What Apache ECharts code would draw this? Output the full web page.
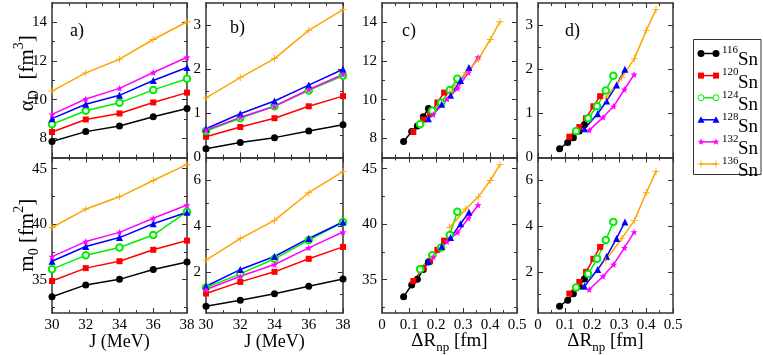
<!DOCTYPE html>
<html>
<head>
<meta charset="utf-8">
<script src="https://cdn.jsdelivr.net/npm/echarts@6/dist/echarts.min.js"></script>
<style>
html,body{margin:0;padding:0;background:#fff;}
#chart{width:763px;height:355px;}
</style>
</head>
<body>
<div id="chart"></div>
<script>
// ---------------- data ----------------
const J = [30, 32, 34, 36, 38];
const nuclei = ['116Sn', '120Sn', '124Sn', '128Sn', '132Sn', '136Sn'];

// neutron-skin thickness (fm) for each nucleus at each J
const dRnp = [
  [0.080, 0.110, 0.131, 0.153, 0.172],
  [0.116, 0.153, 0.178, 0.205, 0.230],
  [0.141, 0.186, 0.219, 0.251, 0.279],
  [0.172, 0.221, 0.254, 0.291, 0.322],
  [0.190, 0.241, 0.280, 0.320, 0.356],
  [0.251, 0.310, 0.357, 0.401, 0.437]
];
// panel a / c (top)
const alphaA = [
  [7.83, 8.34, 8.63, 9.11, 9.54],
  [8.32, 8.97, 9.28, 9.85, 10.36],
  [8.72, 9.42, 9.83, 10.50, 11.08],
  [9.01, 9.76, 10.22, 10.99, 11.66],
  [9.23, 10.03, 10.58, 11.40, 12.19],
  [10.44, 11.38, 12.09, 13.11, 14.03]
];
// panel b / d (top)
const alphaB = [
  [0.20, 0.34, 0.45, 0.60, 0.74],
  [0.47, 0.69, 0.89, 1.16, 1.39],
  [0.60, 0.89, 1.16, 1.52, 1.85],
  [0.65, 0.99, 1.28, 1.64, 2.00],
  [0.62, 0.91, 1.16, 1.54, 1.88],
  [1.35, 1.81, 2.24, 2.88, 3.35]
];
// panel a / c (bottom)
const m0A = [
  [33.46, 34.53, 35.03, 35.92, 36.60],
  [34.88, 36.04, 36.66, 37.69, 38.52],
  [35.95, 37.19, 37.90, 39.02, 41.12],
  [36.66, 37.99, 38.79, 40.03, 41.07],
  [37.07, 38.43, 39.26, 40.53, 41.72],
  [39.70, 41.36, 42.46, 43.93, 45.38]
];
// panel b / d (bottom)
const m0B = [
  [0.50, 0.76, 1.04, 1.37, 1.69],
  [1.05, 1.56, 2.00, 2.57, 3.09],
  [1.31, 1.91, 2.57, 3.39, 4.18],
  [1.37, 2.10, 2.67, 3.46, 4.18],
  [1.23, 1.81, 2.32, 3.05, 3.74],
  [2.51, 3.45, 4.25, 5.46, 6.38]
];

// axis scales and tick labels
const X_J  = {min: 30, max: 38,  major: [30, 32, 34, 36, 38],          minor: [31, 33, 35, 37]};
const X_R  = {min: 0,  max: 0.5, major: [0, 0.1, 0.2, 0.3, 0.4, 0.5], minor: [0.05, 0.15, 0.25, 0.35, 0.45]};
const Y_aT = {min: 7,  max: 15,  major: [8, 10, 12, 14],              minor: [9, 11, 13]};
const Y_bT = {min: 0,  max: 3.5, major: [0, 1, 2, 3],                 minor: [0.5, 1.5, 2.5]};
const Y_aB = {min: 32, max: 46,  major: [35, 40, 45],                 minor: [32.5, 37.5, 42.5]};
const Y_bB = {min: 0.2, max: 7,  major: [2, 4, 6],                    minor: [1, 3, 5]};

// ---------------- styling ----------------
const FONT = '"Liberation Serif", "Times New Roman", "DejaVu Serif", serif';
const COL = ['#000000', '#ff0000', '#00ee00', '#0000ff', '#ff00ff', '#ffa500'];
const STAR_PTS = [[0,-10],[2.4,-3.3],[9.5,-3.1],[3.9,1.3],[5.9,8.1],[0,4.1],[-5.9,8.1],[-3.9,1.3],[-9.5,-3.1],[-2.4,-3.3]];
const PLUS_PTS = [[-0.6,-5],[0.6,-5],[0.6,-0.6],[5,-0.6],[5,0.6],[0.6,0.6],[0.6,5],[-0.6,5],[-0.6,0.6],[-5,0.6],[-5,-0.6],[-0.6,-0.6]];
const STAR = 'path://' + STAR_PTS.map((p, i) => (i ? 'L' : 'M') + p[0] + ',' + p[1]).join('') + 'Z';
const PLUS = 'path://' + PLUS_PTS.map((p, i) => (i ? 'L' : 'M') + p[0] + ',' + p[1]).join('') + 'Z';
const SYM = ['circle', 'rect', 'emptyCircle', 'triangle', STAR, PLUS];
const SSZ = [7, 6, 6.5, 7, 7, 7];

const colL = [52, 206, 382, 538], colW = [135, 137, 135, 135];
const rowT = [3, 157.5], rowH = [154.5, 155.5];

const panels = [
  {r: 0, c: 0, xs: X_J, ys: Y_aT, xv: null, yv: alphaA},
  {r: 0, c: 1, xs: X_J, ys: Y_bT, xv: null, yv: alphaB},
  {r: 0, c: 2, xs: X_R, ys: Y_aT, xv: dRnp, yv: alphaA},
  {r: 0, c: 3, xs: X_R, ys: Y_bT, xv: dRnp, yv: alphaB},
  {r: 1, c: 0, xs: X_J, ys: Y_aB, xv: null, yv: m0A},
  {r: 1, c: 1, xs: X_J, ys: Y_bB, xv: null, yv: m0B},
  {r: 1, c: 2, xs: X_R, ys: Y_aB, xv: dRnp, yv: m0A},
  {r: 1, c: 3, xs: X_R, ys: Y_bB, xv: dRnp, yv: m0B}
];

function richSet(fs) {
  return {
    n:   {fontFamily: FONT, fontSize: fs, lineHeight: fs, padding: [5, 0, 0, 0], verticalAlign: 'top', color: '#000'},
    sub: {fontFamily: FONT, fontSize: Math.round(fs * 0.68), lineHeight: Math.round(fs * 0.68), padding: [Math.round(fs * 0.72), 0, 0, 0], verticalAlign: 'top', color: '#000'},
    sup: {fontFamily: FONT, fontSize: Math.round(fs * 0.68), lineHeight: Math.round(fs * 0.68), padding: [0, 0, 0, 0], verticalAlign: 'top', color: '#000'}
  };
}

function makeAxis(gi, pos, s, isMajor, showLabel, extra) {
  return Object.assign({
    type: 'value', gridIndex: gi, position: pos, min: s.min, max: s.max,
    axisLine: {show: isMajor, onZero: false, lineStyle: {color: '#333', width: 1.5}},
    axisTick: {show: true, inside: true, length: isMajor ? 5 : 3,
      customValues: isMajor ? s.major : s.minor, lineStyle: {color: '#333', width: 1}},
    axisLabel: {show: showLabel, customValues: s.major, fontFamily: FONT, fontSize: 15, color: '#000', margin: 5},
    splitLine: {show: false},
    minorTick: {show: false},
    nameMoveOverlap: false
  }, extra || {});
}

const grids = [], xAxes = [], yAxes = [], series = [];
panels.forEach((p, gi) => {
  grids.push({left: colL[p.c], top: rowT[p.r], width: colW[p.c], height: rowH[p.r],
    containLabel: false, outerBoundsMode: 'none'});
  const xi = xAxes.length, yi = yAxes.length;
  let xExtra = {};
  if (p.r === 1) {
    if (p.c < 2) {
      xExtra = {name: 'J (MeV)', nameLocation: 'middle', nameGap: 20, nameMoveOverlap: false,
        nameTextStyle: {fontFamily: FONT, fontSize: 18, color: '#000'}};
    } else {
      xExtra = {name: '{n|ΔR}{sub|np}{n| [fm]}', nameLocation: 'middle', nameGap: 14, nameMoveOverlap: false,
        nameTextStyle: {rich: richSet(19)}};
    }
  }
  xAxes.push(makeAxis(gi, 'bottom', p.xs, true, p.r === 1, xExtra));
  xAxes.push(makeAxis(gi, 'bottom', p.xs, false, false));
  xAxes.push(makeAxis(gi, 'top', p.xs, true, false));
  xAxes.push(makeAxis(gi, 'top', p.xs, false, false));
  let yExtra = {};
  if (p.c === 0) {
    if (p.r === 0) {
      yExtra = {name: '{n|α}{sub|D}{n|  [fm}{sup|3}{n|]}',
        nameLocation: 'middle', nameGap: 19, nameRotate: 90,
        nameTextStyle: {rich: richSet(21), padding: [0, 0, 0, 14]}};
    } else {
      yExtra = {name: '{n|m}{sub|0}{n| [fm}{sup|2}{n|]}',
        nameLocation: 'middle', nameGap: 19, nameRotate: 90,
        nameTextStyle: {rich: richSet(21)}};
    }
  }
  yAxes.push(makeAxis(gi, 'left', p.ys, true, true, yExtra));
  yAxes.push(makeAxis(gi, 'left', p.ys, false, false));
  yAxes.push(makeAxis(gi, 'right', p.ys, true, false));
  yAxes.push(makeAxis(gi, 'right', p.ys, false, false));

  nuclei.forEach((nm, i) => {
    series.push({
      type: 'line', name: nm, xAxisIndex: xi, yAxisIndex: yi,
      data: J.map((j, k) => [p.xv ? p.xv[i][k] : j, p.yv[i][k]]),
      symbol: SYM[i], symbolSize: SSZ[i], showSymbol: true, showAllSymbol: true,
      itemStyle: {color: COL[i], borderColor: COL[i], borderWidth: i === 2 ? 1 : 0},
      lineStyle: {color: COL[i], width: 1.5},
      clip: false, animation: false, silent: true
    });
  });
});

// ---------------- legend (drawn as graphic elements) ----------------
function legendSymbol(i, cx, cy) {
  const c = COL[i];
  const scalePts = (pts, s) => pts.map(p => [cx + p[0] * s, cy + p[1] * s]);
  switch (i) {
    case 0: return {type: 'circle', shape: {cx, cy, r: 3.5}, style: {fill: c}};
    case 1: return {type: 'rect', shape: {x: cx - 3, y: cy - 3, width: 6, height: 6}, style: {fill: c}};
    case 2: return {type: 'circle', shape: {cx, cy, r: 3}, style: {fill: '#fff', stroke: c, lineWidth: 1}};
    case 3: return {type: 'polygon', shape: {points: [[cx, cy - 3.5], [cx + 3.5, cy + 3], [cx - 3.5, cy + 3]]}, style: {fill: c}};
    case 4: return {type: 'polygon', shape: {points: scalePts(STAR_PTS, 0.36)}, style: {fill: c}};
    default: return {type: 'polygon', shape: {points: scalePts(PLUS_PTS, 0.7)}, style: {fill: c}};
  }
}
const legendEls = [
  {type: 'rect', shape: {x: 693.5, y: 39.5, width: 67.5, height: 135}, style: {fill: '#fff', stroke: '#333', lineWidth: 1}, silent: true, z: 10}
];
nuclei.forEach((nm, i) => {
  const cy = 53.5 + i * 22.1;
  legendEls.push({type: 'line', shape: {x1: 700, y1: cy, x2: 717, y2: cy}, style: {stroke: COL[i], lineWidth: 1.5}, silent: true, z: 11});
  [701, 716].forEach(cx => legendEls.push(Object.assign(legendSymbol(i, cx, cy), {silent: true, z: 12})));
  legendEls.push({type: 'text', x: 722, y: cy - 3, silent: true, z: 12,
    style: {text: nm.replace('Sn', ''), font: '11px ' + FONT, fill: '#000', verticalAlign: 'middle', align: 'left'}});
  legendEls.push({type: 'text', x: 738, y: cy + 7, silent: true, z: 12,
    style: {text: 'Sn', font: '19px ' + FONT, fill: '#000', verticalAlign: 'middle', align: 'left'}});
});

const panelLabels = [['a)', 70, 22], ['b)', 230, 19], ['c)', 402, 22], ['d)', 565, 22]];

const option = {
  backgroundColor: '#fff',
  animation: false,
  grid: grids,
  xAxis: xAxes,
  yAxis: yAxes,
  series: series,
  graphic: legendEls.concat(panelLabels.map(l => ({
    type: 'text', left: l[1], top: l[2],
    style: {text: l[0], font: '18px ' + FONT, fill: '#000'}, silent: true
  })))
};

const chart = echarts.init(document.getElementById('chart'), null, {renderer: 'canvas'});
chart.setOption(option);
</script>
</body>
</html>
